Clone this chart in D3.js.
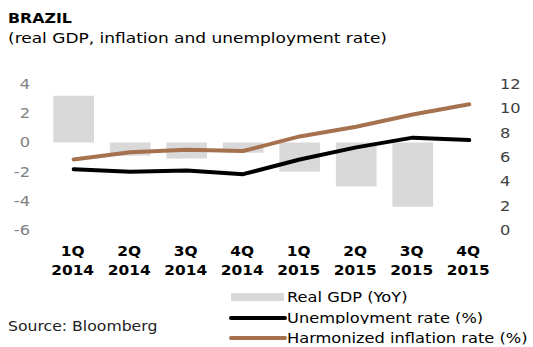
<!DOCTYPE html>
<html><head><meta charset="utf-8">
<script src="https://cdn.jsdelivr.net/npm/d3@7"></script>
<style>body{margin:0;background:#fff}svg{display:block}</style>
</head><body>
<svg id="c" width="533" height="347"></svg>
<script>
const quarters = ["1Q","2Q","3Q","4Q","1Q","2Q","3Q","4Q"];
const years = ["2014","2014","2014","2014","2015","2015","2015","2015"];
const gdp = [3.2, -0.9, -1.1, -0.7, -2.0, -3.0, -4.4, null];
const unemployment = [5.0, 4.8, 4.9, 4.6, 5.8, 6.8, 7.6, 7.4];
const inflation = [5.8, 6.4, 6.6, 6.5, 7.7, 8.5, 9.5, 10.35];
const leftTicks = [4, 2, 0, -2, -4, -6];
const rightTicks = [12, 10, 8, 6, 4, 2, 0];
const legendLabels = ["Real GDP (YoY)", "Unemployment rate (%)", "Harmonized inflation rate (%)"];

const svg = d3.select("#c");
const font = "'DejaVu Sans', Verdana, sans-serif";
const SX = 1.16;
const idx = d3.range(quarters.length);

const x = d3.scaleBand().domain(idx).range([45.4, 497.5]).paddingInner(0.28).paddingOuter(0.14);
const yL = d3.scaleLinear().domain([-6, 4]).range([230.1, 84.1]);
const yR = d3.scaleLinear().domain([0, 12]).range([230.1, 84.1]);

function wtext(parent, tx, ty, str, opts = {}) {
  const t = parent.append("text")
    .attr("transform", `translate(${tx},${ty}) scale(${opts.sx || SX},1)`)
    .attr("font-family", font).attr("font-size", opts.size || 14)
    .attr("fill", opts.fill || "#000")
    .attr("text-anchor", opts.anchor || "start")
    .text(str);
  if (opts.bold) t.attr("font-weight", "bold");
  return t;
}

wtext(svg, 8, 23, "BRAZIL", { bold: true, sx: 1.13 });
wtext(svg, 8, 43, "(real GDP, inflation and unemployment rate)", { sx: 1.215 });

// left axis
const gl = svg.append("g").attr("transform", "translate(30,0)")
  .call(d3.axisLeft(yL).tickValues(leftTicks).tickSize(0).tickPadding(0).tickFormat(d => String(d)));
gl.select(".domain").remove();
gl.selectAll("text").attr("font-family", font).attr("font-size", 14).attr("fill", "#808080")
  .attr("transform", `scale(${SX},1)`);

// right axis
const gr = svg.append("g").attr("transform", "translate(500,0)")
  .call(d3.axisRight(yR).tickValues(rightTicks).tickSize(0).tickPadding(0).tickFormat(d => String(d)));
gr.select(".domain").remove();
gr.selectAll("text").attr("font-family", font).attr("font-size", 14).attr("fill", "#404040")
  .attr("transform", `scale(${SX},1)`);

// bars
svg.append("g").selectAll("rect").data(idx.filter(i => gdp[i] !== null)).join("rect")
  .attr("x", i => x(i)).attr("width", x.bandwidth())
  .attr("y", i => yL(Math.max(0, gdp[i])))
  .attr("height", i => Math.abs(yL(gdp[i]) - yL(0)))
  .attr("fill", "#d9d9d9");

const line = arr => d3.line().x(i => x(i) + x.bandwidth() / 2).y(i => yR(arr[i]))(idx);
svg.append("path").attr("d", line(unemployment)).attr("fill", "none").attr("stroke", "#000")
  .attr("stroke-width", 4).attr("stroke-linecap", "round").attr("stroke-linejoin", "round");
svg.append("path").attr("d", line(inflation)).attr("fill", "none").attr("stroke", "#a6714f")
  .attr("stroke-width", 4).attr("stroke-linecap", "round").attr("stroke-linejoin", "round");

// x labels
const xl = svg.append("g");
idx.forEach(i => {
  const cx = x(i) + x.bandwidth() / 2 - 1;
  wtext(xl, cx, 256, quarters[i], { bold: true, anchor: "middle", sx: 1.1 });
  wtext(xl, cx, 275, years[i], { bold: true, anchor: "middle", sx: 1.1 });
});

// source
wtext(svg, 8, 331, "Source: Bloomberg", { fill: "#222", sx: 1.12 });

// legend
const lg = svg.append("g");
const rowY = [297, 318, 338];
legendLabels.forEach((lab, k) => {
  const g = lg.append("g");
  g.append("rect").attr("x", 226).attr("y", k === 0 ? 286 : rowY[k] - 14).attr("width", 307).attr("height", 22).attr("fill", "#fff");
  if (k === 0) {
    g.append("rect").attr("x", 231).attr("y", rowY[k] - 4).attr("width", 53).attr("height", 8).attr("fill", "#d9d9d9");
  } else {
    g.append("line").attr("x1", 231).attr("x2", 285).attr("y1", rowY[k]).attr("y2", rowY[k])
      .attr("stroke", k === 1 ? "#000" : "#a6714f").attr("stroke-width", 4).attr("stroke-linecap", "round");
  }
  wtext(g, 287, rowY[k] + 5, lab, { sx: 1.16 });
});
</script>
</body></html>
